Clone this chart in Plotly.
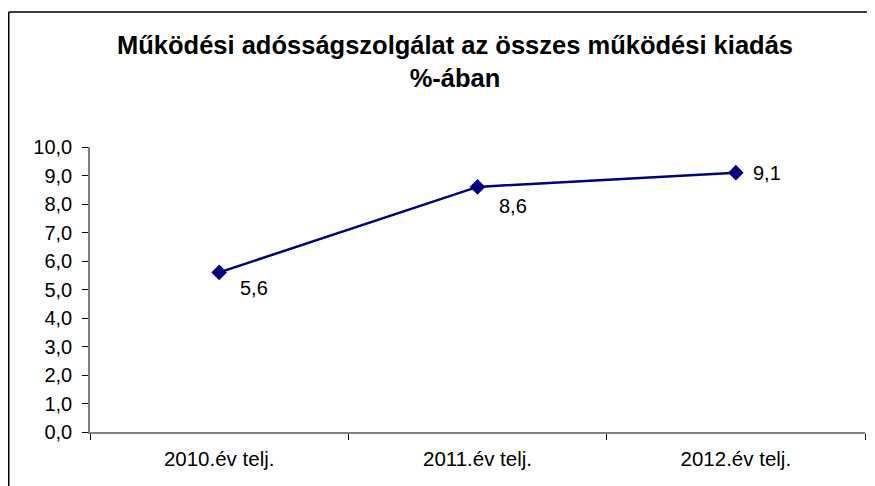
import plotly.graph_objects as go

categories = ["2010.év telj.", "2011.év telj.", "2012.év telj."]
values = [5.6, 8.6, 9.1]
title_text = "Működési adósságszolgálat az összes működési kiadás<br>%-ában"

# page is offset by the default 8px body margin
OFF = 8
W, H = 875 - OFF, 486 - OFF
L, R, T, B = 90 - OFF, 10, 147 - OFF, 54
pw, ph = W - L - R, H - T - B

def px_x(px):
    return (px - OFF - L) / pw

def px_y(py):
    return (H - B - (py - OFF)) / ph

fig = go.Figure()
fig.add_trace(go.Scatter(
    x=categories, y=values, mode="lines+markers",
    line=dict(color="#000080", width=2.5),
    marker=dict(symbol="diamond", size=12, color="#000080"),
    hoverinfo="skip", showlegend=False, cliponaxis=False,
))

label_offsets = [(19, -16), (19, -19), (15, 0)]
for c, v, (dx, dy) in zip(categories, values, label_offsets):
    fig.add_annotation(
        x=c, y=v, text=f"{v:.1f}".replace(".", ","), showarrow=False,
        xanchor="left", yanchor="middle", xshift=dx, yshift=dy,
        font=dict(family="Liberation Sans, Arial", size=20, color="#000000"),
    )

# outer frame (cut at right/bottom)
fig.add_shape(type="line", xref="paper", yref="paper",
              x0=px_x(8.75), x1=px_x(890), y0=px_y(12), y1=px_y(12),
              line=dict(color="#000000", width=1.5))
fig.add_shape(type="line", xref="paper", yref="paper",
              x0=px_x(8.75), x1=px_x(8.75), y0=px_y(12), y1=px_y(500),
              line=dict(color="#000000", width=1.5))

fig.update_layout(
    width=W, height=H,
    margin=dict(l=L, r=R, t=T, b=B),
    paper_bgcolor="white", plot_bgcolor="white",
    separators=", ",
    font=dict(family="Liberation Sans, Arial", size=20, color="#000000"),
    title=dict(
        text=title_text, x=(455 - OFF) / W, xanchor="center", xref="container",
        y=1 - 46 / H, yanchor="top", yref="container",
        font=dict(family="Liberation Sans, Arial", size=25.5, color="#000000", weight="bold"),
    ),
    xaxis=dict(
        type="category", range=[-0.5, 2.5], tickson="boundaries",
        ticks="outside", ticklen=6, tickcolor="#000000", tickwidth=1,
        showline=True, linecolor="#808080", linewidth=1.5,
        showgrid=False, zeroline=False, ticklabelstandoff=8,
        tickfont=dict(size=20.5),
    ),
    yaxis=dict(
        range=[0, 10], dtick=1, tickformat=".1f",
        ticks="outside", ticklen=6, tickcolor="#000000", tickwidth=1,
        showline=True, linecolor="#808080", linewidth=1.5,
        showgrid=False, zeroline=False, ticklabelstandoff=6,
    ),
)

fig.write_html("out.html")
